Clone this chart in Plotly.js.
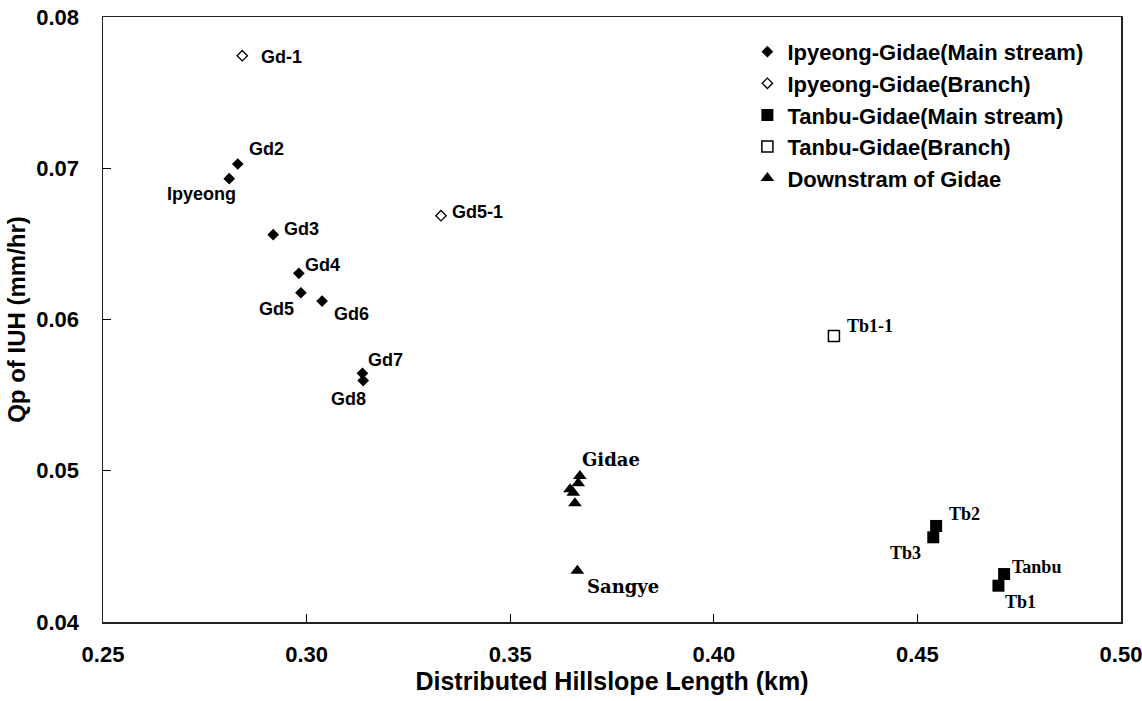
<!DOCTYPE html>
<html>
<head>
<meta charset="utf-8">
<script src="https://cdn.plot.ly/plotly-3.0.1.min.js"></script>
<style>html,body{margin:0;padding:0;background:#fff;}#chart{width:1142px;height:701px;}</style>
</head>
<body>
<div id="chart"></div>
<script>
// ---- data ----
const ipMainX = [0.2810, 0.2831, 0.2918, 0.2981, 0.2986, 0.3038, 0.3137, 0.3139];
const ipMainY = [0.06931, 0.07028, 0.06561, 0.06305, 0.06177, 0.06122, 0.05644, 0.05596];
const ipMainLabels = ['Ipyeong', 'Gd2', 'Gd3', 'Gd4', 'Gd5', 'Gd6', 'Gd7', 'Gd8'];

const ipBranchX = [0.2842, 0.3330];
const ipBranchY = [0.07744, 0.06686];
const ipBranchLabels = ['Gd-1', 'Gd5-1'];

const tbMainX = [0.4546, 0.4539, 0.4713, 0.4699];
const tbMainY = [0.04635, 0.04560, 0.04317, 0.04240];
const tbMainLabels = ['Tb2', 'Tb3', 'Tanbu', 'Tb1'];

const tbBranchX = [0.4295];
const tbBranchY = [0.05891];
const tbBranchLabels = ['Tb1-1'];

const downX = [0.3671, 0.3667, 0.3647, 0.3655, 0.3659, 0.3665];
const downY = [0.04965, 0.04917, 0.04877, 0.04855, 0.04785, 0.04339];
const downLabels = ['Gidae', '', '', '', '', 'Sangye'];

const seriesNames = ['Ipyeong-Gidae(Main stream)', 'Ipyeong-Gidae(Branch)', 'Tanbu-Gidae(Main stream)', 'Tanbu-Gidae(Branch)', 'Downstram of Gidae'];

const xTickVals = [0.25, 0.30, 0.35, 0.40, 0.45, 0.50];
const xTickText = ['0.25', '0.30', '0.35', '0.40', '0.45', '0.50'];
const yTickVals = [0.04, 0.05, 0.06, 0.07, 0.08];
const yTickText = ['0.04', '0.05', '0.06', '0.07', '0.08'];

// ---- label placement (style) ----
const labelPlace = {
  'Gd-1':   ['left', 17, -1],
  'Gd2':    ['left', 9, 15],
  'Ipyeong':['right', 9, -15],
  'Gd5-1':  ['left', 9, 4],
  'Gd3':    ['left', 9, 6],
  'Gd4':    ['left', 4, 8],
  'Gd5':    ['right', -5, -16],
  'Gd6':    ['left', 10, -13],
  'Gd7':    ['left', 4, 13],
  'Gd8':    ['right', 5, -18],
  'Gidae':  ['left', 0, 17],
  'Sangye': ['left', 8, -16],
  'Tb2':    ['left', 11, 12],
  'Tb3':    ['right', -10, -16],
  'Tanbu':  ['left', 6, 7],
  'Tb1':    ['left', 5, -16],
  'Tb1-1':  ['left', 11, 10]
};
const sansFont = 'Liberation Sans, Arial, sans-serif';
const serifFont = 'Liberation Serif, Times New Roman, serif';
const heavySerif = 'DejaVu Serif, serif';

const groups = [
  {x: ipMainX, y: ipMainY, labels: ipMainLabels, fam: sansFont,
   marker: {symbol: 'diamond', size: 9, color: '#000'}},
  {x: ipBranchX, y: ipBranchY, labels: ipBranchLabels, fam: sansFont,
   marker: {symbol: 'diamond-open', size: 8, color: '#000', line: {width: 1.3, color: '#000'}}},
  {x: tbMainX, y: tbMainY, labels: tbMainLabels, fam: serifFont,
   marker: {symbol: 'square', size: 12, color: '#000'}},
  {x: tbBranchX, y: tbBranchY, labels: tbBranchLabels, fam: serifFont,
   marker: {symbol: 'square-open', size: 11, color: '#000', line: {width: 1.5, color: '#000'}}},
  {x: downX, y: downY, labels: downLabels, fam: heavySerif,
   marker: {symbol: 'triangle-up', size: 12, color: '#000'}}
];

const traces = groups.map((g, i) => ({
  type: 'scatter', mode: 'markers', name: seriesNames[i],
  legendgroup: 'g' + i,
  x: g.x, y: g.y, marker: g.marker, hoverinfo: 'x+y'
}));

const annotations = [];
groups.forEach(g => {
  g.labels.forEach((lab, k) => {
    if (!lab) return;
    const p = labelPlace[lab];
    annotations.push({
      x: g.x[k], y: g.y[k], xref: 'x', yref: 'y', text: lab, showarrow: false,
      xanchor: p[0], yanchor: 'middle', xshift: p[1], yshift: p[2],
      font: {family: g.fam, size: 18, color: '#000', weight: 'bold'}
    });
  });
});

const layout = {
  width: 1142, height: 701,
  margin: {l: 103, r: 21, t: 17, b: 79, pad: 0},
  paper_bgcolor: '#fff', plot_bgcolor: '#fff',
  showlegend: true,
  legend: {
    x: 0.633, y: 0.977, xanchor: 'left', yanchor: 'top',
    bgcolor: 'rgba(0,0,0,0)', borderwidth: 0,
    font: {family: sansFont, size: 22, color: '#000', weight: 'bold'},
    traceorder: 'grouped', tracegroupgap: 0, itemwidth: 30
  },
  xaxis: {
    range: [0.25, 0.50], tickmode: 'array', tickvals: xTickVals, ticktext: xTickText,
    ticks: 'inside', ticklen: 8, tickwidth: 1, tickcolor: '#000',
    showline: true, linecolor: '#222', linewidth: 1.5, mirror: true,
    showgrid: false, zeroline: false, ticklabelstandoff: 12, ticklabeloverflow: 'allow',
    tickfont: {family: sansFont, size: 22, color: '#000', weight: 'bold'},
    title: {text: 'Distributed Hillslope Length (km)', standoff: 6,
            font: {family: sansFont, size: 25, color: '#000', weight: 'bold'}}
  },
  yaxis: {
    range: [0.04, 0.08], tickmode: 'array', tickvals: yTickVals, ticktext: yTickText,
    ticks: 'inside', ticklen: 8, tickwidth: 1, tickcolor: '#000',
    showline: true, linecolor: '#222', linewidth: 1.5, mirror: true,
    showgrid: false, zeroline: false, ticklabelstandoff: 18, ticklabeloverflow: 'allow',
    tickfont: {family: sansFont, size: 22, color: '#000', weight: 'bold'},
    title: {text: 'Qp of IUH (mm/hr)', standoff: 4,
            font: {family: sansFont, size: 24, color: '#000', weight: 'bold'}}
  },
  annotations: annotations
};

Plotly.newPlot('chart', traces, layout, {staticPlot: true, displayModeBar: false});
</script>
</body>
</html>
